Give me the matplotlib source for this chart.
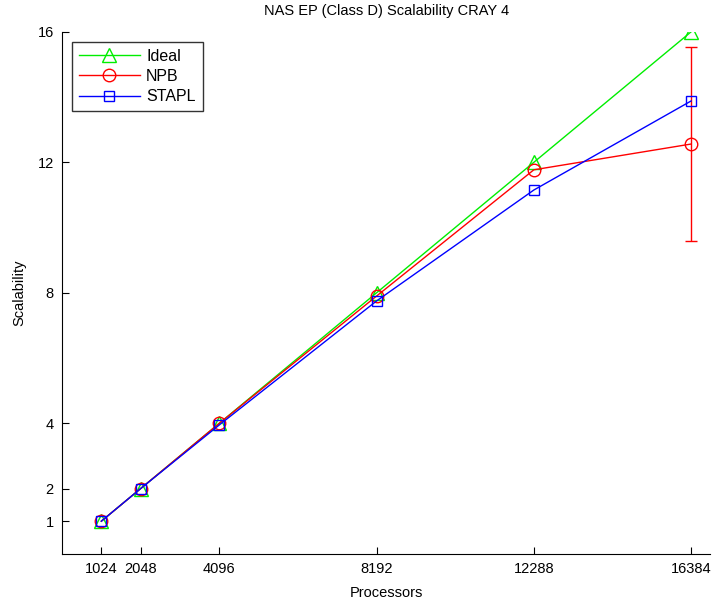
import numpy as np
import matplotlib
matplotlib.use('Agg')
import matplotlib.pyplot as plt

plt.rcParams['font.family'] = ['Liberation Sans', 'DejaVu Sans']

procs = [1024, 2048, 4096, 8192, 12288, 16384]
ideal = [1, 2, 4, 8, 12, 16]
npb = [1, 2, 4, 7.9, 11.77, 12.56]
npb_err = [0, 0, 0, 0, 0, 2.97]
stapl = [1, 2, 3.95, 7.75, 11.15, 13.88]
yticks = [1, 2, 4, 8, 12, 16]

fig = plt.figure(figsize=(7.13, 6.0), dpi=100)
ax = fig.add_axes([0.087, 0.077, 0.909, 0.870])

h1, = ax.plot(procs, ideal, color='#00ee00', marker='^', ms=10, mfc='none', lw=1, label='Ideal', zorder=2)
h2, = ax.plot(procs, npb, color='red', marker='o', ms=9, mfc='none', lw=1, label='NPB', zorder=3)
ax.errorbar(procs[-1:], npb[-1:], yerr=npb_err[-1:], color='red', ls='none',
            capsize=4.5, elinewidth=1, capthick=1, zorder=3)
h3, = ax.plot(procs, stapl, color='blue', marker='s', ms=7.5, mfc='none', lw=1, label='STAPL', zorder=4)

ax.set_xlim(0, 16880)
ax.set_ylim(0, 16)
ax.set_xticks(procs)
ax.set_yticks(yticks)
ax.tick_params(direction='in', labelsize=10.5, length=5, pad=6)
ax.spines['top'].set_visible(False)
ax.spines['right'].set_visible(False)

ax.set_xlabel('Processors', fontsize=10.5, labelpad=7)
ax.set_ylabel('Scalability', fontsize=10.5, labelpad=8)
ax.set_title('NAS EP (Class D) Scalability CRAY 4', fontsize=10.5, pad=12)

leg = ax.legend(handles=[h1, h2, h3], loc='upper left', bbox_to_anchor=(0.015, 0.981), fontsize=11.5,
                fancybox=False, edgecolor='black', handlelength=3.8, borderpad=0.45,
                labelspacing=0.32, handletextpad=0.4, borderaxespad=0)
leg.get_frame().set_linewidth(1)

fig.savefig('out.png', dpi=100)
